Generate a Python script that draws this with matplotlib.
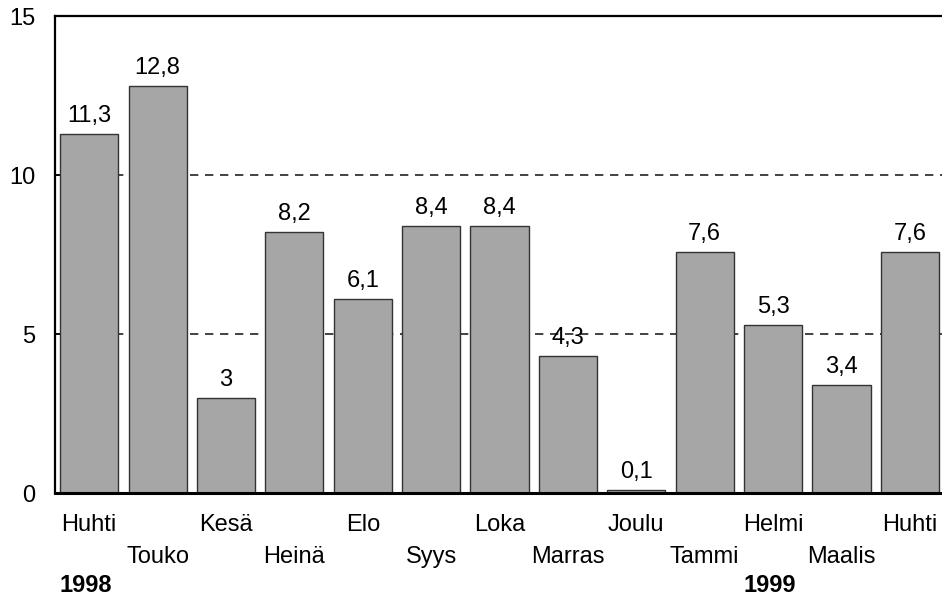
import numpy as np
import matplotlib.pyplot as plt

months = ['Huhti', 'Touko', 'Kesä', 'Heinä', 'Elo', 'Syys', 'Loka',
          'Marras', 'Joulu', 'Tammi', 'Helmi', 'Maalis', 'Huhti']
values = [11.3, 12.8, 3, 8.2, 6.1, 8.4, 8.4, 4.3, 0.1, 7.6, 5.3, 3.4, 7.6]
value_labels = ['11,3', '12,8', '3', '8,2', '6,1', '8,4', '8,4',
                '4,3', '0,1', '7,6', '5,3', '3,4', '7,6']
years = ['1998', '1999']
year_pos = [0, 10]

plt.rcParams['font.family'] = ['Liberation Sans', 'DejaVu Sans']

fig = plt.figure(figsize=(9.42, 6), dpi=100)
ax = fig.add_axes([0.0584, 0.178, 0.9416, 0.795])

x = np.arange(len(values))
ax.bar(x, values, width=0.85, color='#a6a6a6', edgecolor='#333333',
       linewidth=1.0, zorder=2)

# value labels above bars
for xi, v, lab in zip(x, values, value_labels):
    ax.text(xi, v + 0.22, lab, ha='center', va='bottom', fontsize=17)

# dashed reference lines
for yv in (5, 10):
    ax.axhline(yv, color='#222222', linestyle=(0, (5, 4)), linewidth=1.2,
               zorder=1)

ax.set_xlim(-0.5, 12.47)
ax.set_ylim(0, 15)
ax.set_yticks([0, 5, 10, 15])
ax.set_yticklabels(['0', '5', '10', '15'], fontsize=17)
ax.tick_params(axis='y', length=4, width=1.2, direction='in', pad=14)
ax.set_xticks([])

ax.spines['right'].set_visible(False)
ax.spines['top'].set_linewidth(1.6)
ax.spines['left'].set_linewidth(1.6)
ax.spines['bottom'].set_linewidth(2.2)

# alternating month labels
for xi, m in zip(x, months):
    yoff = -1.0 if xi % 2 == 0 else -2.0
    ax.text(xi, yoff, m, ha='center', va='center', fontsize=17,
            clip_on=False)

for yp, yr in zip(year_pos, years):
    ax.text(yp - 0.05, -2.9, yr, ha='center', va='center', fontsize=17,
            fontweight='bold', clip_on=False)

fig.savefig('out.png', dpi=100)
